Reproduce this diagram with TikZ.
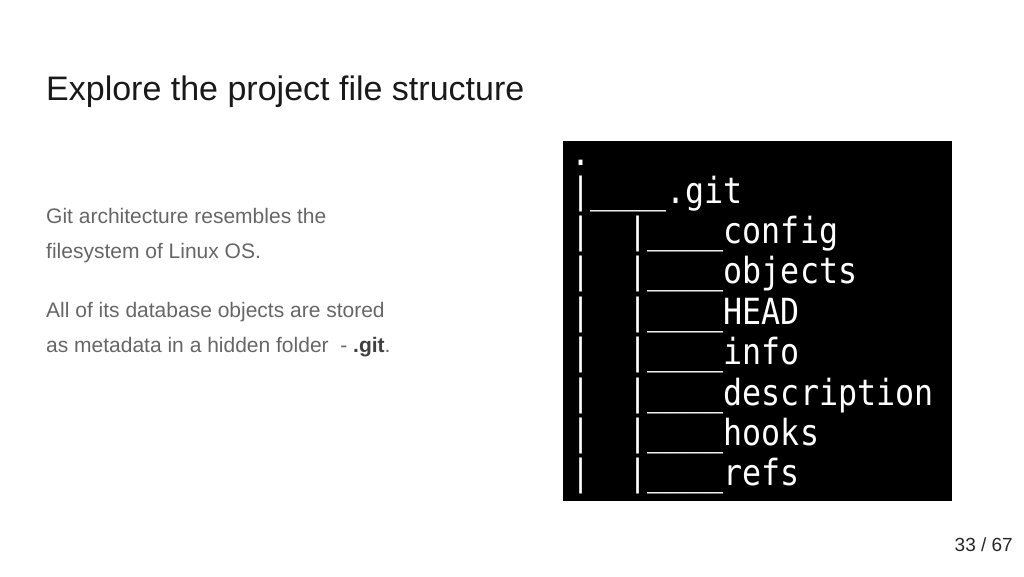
\documentclass[tikz,border=0pt]{standalone}
\usepackage{fontspec}
\setmainfont{Liberation Sans}
\newfontfamily\termfont{DejaVu Sans Mono}
\begin{document}
\begin{tikzpicture}[x=1pt,y=-1pt,
  body/.style={anchor=base west,inner sep=0pt,text=black!60,font=\fontsize{21}{25}\selectfont},
  term/.style={anchor=base west,inner sep=0pt,text=white,font=\termfont\fontsize{36}{40}\selectfont,xscale=0.88}]
\useasboundingbox (0,0) rectangle (1024,576);
\node[anchor=base west,inner sep=0pt,font=\fontsize{34}{40}\selectfont,text=black!90] (title) at (46,100) {Explore the project file structure};
\node[body] (b1) at (46,223) {Git architecture resembles the};
\node[body] (b2) at (46,258) {filesystem of Linux OS.};
\node[body] (b3) at (46,317) {All of its database objects are stored};
\node[body] (b4) at (46,352) {as metadata in a hidden folder\ \ - \textbf{\color{black!75}.git}.};
\fill[black] (563,141) rectangle (952,501);
\node[term] (t0) at (571,165) {.};
\node[term] (t1) at (571,203) {|\_\_\_\_.git};
\foreach \n/\t [count=\i] in {config,objects,HEAD,info,description,hooks,refs}
  \node[term] (l\i) at (571,{203+\i*40.4}) {|\ \ |\_\_\_\_\t};
\node[anchor=base east,inner sep=0pt,font=\fontsize{19}{22}\selectfont,text=black!85] (pg) at (1013,551) {33 / 67};
\end{tikzpicture}
\end{document}
